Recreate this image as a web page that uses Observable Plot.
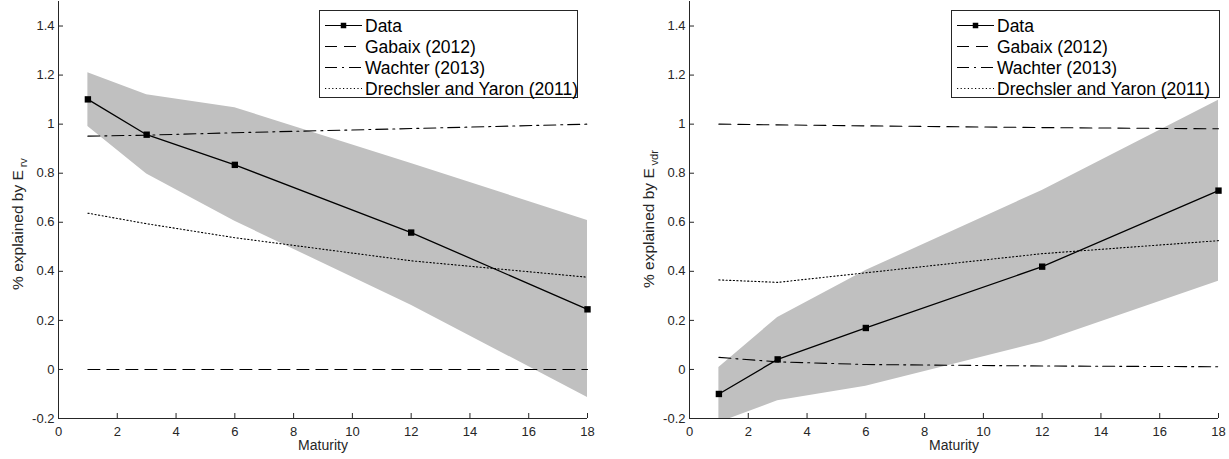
<!DOCTYPE html>
<html>
<head>
<meta charset="utf-8">
<script src="https://cdn.jsdelivr.net/npm/d3@7"></script>
<script src="https://cdn.jsdelivr.net/npm/@observablehq/plot@0.6"></script>
<style>
  body { margin: 0; background: #fff; }
  #wrap { position: relative; width: 1229px; height: 459px; overflow: hidden; font-family: "Liberation Sans", Arial, sans-serif; }
  .panel { position: absolute; top: 0; }
  .ylab { position: absolute; white-space: nowrap; font-size: 15.5px; line-height: 1; color: #262626;
          transform: translate(-50%, -50%) rotate(-90deg); transform-origin: 50% 50%; }
  .ylab .sub { position: relative; top: 0.4em; font-size: 0.72em; margin-left: 0.25em; }
  .legend { position: absolute; top: 0; left: 0; }
</style>
</head>
<body>
<div id="wrap"></div>
<script>
// ---- data ----
const maturity = [1, 3, 6, 12, 18];

// Left panel: % explained by E_rv
const leftData      = [1.101, 0.957, 0.834, 0.558, 0.245];
const leftUpper     = [1.21, 1.12, 1.067, 0.84, 0.607];
const leftLower     = [0.99, 0.797, 0.604, 0.262, -0.114];
const leftGabaix    = [0, 0, 0, 0, 0];
const leftWachter   = [0.951, 0.955, 0.965, 0.982, 1.0];
const leftDrechsler = [0.637, 0.594, 0.537, 0.443, 0.376];

// Right panel: % explained by E_vdr
const rightData      = [-0.1, 0.041, 0.169, 0.419, 0.729];
const rightUpper     = [0.008, 0.212, 0.403, 0.73, 1.097];
const rightLower     = [-0.217, -0.128, -0.069, 0.112, 0.36];
const rightGabaix    = [1.0, 0.997, 0.993, 0.986, 0.981];
const rightWachter   = [0.049, 0.031, 0.02, 0.014, 0.011];
const rightDrechsler = [0.365, 0.355, 0.394, 0.472, 0.525];

const xTicks = [0, 2, 4, 6, 8, 10, 12, 14, 16, 18];
const yTicks = [-0.2, 0, 0.2, 0.4, 0.6, 0.8, 1, 1.2, 1.4];
const seriesNames = ["Data", "Gabaix (2012)", "Wachter (2013)", "Drechsler and Yaron (2011)"];
const xLabel = "Maturity";
const yLabelMain = "% explained by E";
const leftSub = "rv";
const rightSub = "vdr";

// ---- drawing ----
const axisColor = "#262626";
const FONT = '"Liberation Sans", Arial, sans-serif';
const H = 459, MT = 1, MB = 41;
const dashStyles = [null, "12,7", "12,5,2,5", "1.2,2.4"];

function makePanel(opts) {
  const {data, upper, lower, gabaix, wachter, drechsler, width, marginLeft, marginRight} = opts;
  const rows = maturity.map((m, i) => ({m, d: data[i], u: upper[i], l: lower[i], g: gabaix[i], w: wachter[i], dr: drechsler[i]}));
  const ph = H - MT - MB;
  const pw = width - marginLeft - marginRight;
  return Plot.plot({
    width, height: H, marginTop: MT, marginBottom: MB, marginLeft, marginRight,
    x: {domain: [0, 18]},
    y: {domain: [-0.2, 1.5]},
    style: {fontFamily: FONT, background: "transparent", overflow: "visible"},
    marks: [
      Plot.areaY(rows, {x: "m", y1: "l", y2: "u", fill: "#c0c0c0", clip: true}),
      Plot.lineY(rows, {x: "m", y: "g", stroke: "black", strokeWidth: 1.1, strokeDasharray: dashStyles[1]}),
      Plot.lineY(rows, {x: "m", y: "w", stroke: "black", strokeWidth: 1.1, strokeDasharray: dashStyles[2]}),
      Plot.lineY(rows, {x: "m", y: "dr", stroke: "black", strokeWidth: 1.1, strokeDasharray: dashStyles[3]}),
      Plot.lineY(rows, {x: "m", y: "d", stroke: "black", strokeWidth: 1.3}),
      Plot.dot(rows, {x: "m", y: "d", symbol: "square", r: 3.6, fill: "black", stroke: null}),
      Plot.ruleY([-0.2], {stroke: axisColor}),
      Plot.ruleX([0], {stroke: axisColor}),
      Plot.ruleX(xTicks, {x: d => d, insetTop: ph - 5, stroke: axisColor}),
      Plot.ruleY(yTicks, {y: d => d, insetRight: pw - 5, stroke: axisColor}),
      Plot.axisX({ticks: xTicks, tickSize: 0, tickPadding: 8.5, tickFormat: d => String(d), fontSize: 13, color: axisColor, label: null}),
      Plot.axisY({ticks: yTicks, tickSize: 0, tickPadding: 4, tickFormat: d => String(+d.toFixed(1)), fontSize: 13, color: axisColor, label: null}),
      Plot.text([xLabel], {text: d => d, frameAnchor: "bottom", dy: 31.5, fontSize: 14, fill: axisColor})
    ]
  });
}

function makeLegend(svg, left, width) {
  const top = 10, height = 87, rowY = [25.5, 46.5, 67.5, 88.5];
  const g = svg.append("g");
  g.append("rect").attr("x", left + 0.5).attr("y", top + 0.5).attr("width", width).attr("height", height)
    .attr("fill", "white").attr("stroke", axisColor).attr("stroke-width", 1);
  seriesNames.forEach((name, i) => {
    const ln = g.append("line").attr("x1", left + 6).attr("x2", left + 43)
      .attr("y1", rowY[i]).attr("y2", rowY[i]).attr("stroke", "black").attr("stroke-width", 1.1);
    if (dashStyles[i]) ln.attr("stroke-dasharray", dashStyles[i]);
    if (i === 0) g.append("rect").attr("x", left + 24.5 - 2.75).attr("y", rowY[i] - 2.75).attr("width", 5.5).attr("height", 5.5).attr("fill", "black");
    g.append("text").attr("x", left + 46).attr("y", rowY[i] + 6).attr("font-size", 17.5)
      .attr("font-family", FONT).attr("fill", "black").text(name);
  });
}

const wrap = document.getElementById("wrap");

const p1 = makePanel({data: leftData, upper: leftUpper, lower: leftLower, gabaix: leftGabaix, wachter: leftWachter, drechsler: leftDrechsler,
  width: 614, marginLeft: 58, marginRight: 27});
p1.classList.add("panel"); p1.style.left = "0px";
wrap.appendChild(p1);

const p2 = makePanel({data: rightData, upper: rightUpper, lower: rightLower, gabaix: rightGabaix, wachter: rightWachter, drechsler: rightDrechsler,
  width: 615, marginLeft: 75, marginRight: 11});
p2.classList.add("panel"); p2.style.left = "614px";
wrap.appendChild(p2);

// legends
const lsvg = d3.select(wrap).append("svg").attr("class", "legend").attr("width", 1229).attr("height", 459);
makeLegend(lsvg, 319, 258);
makeLegend(lsvg, 951, 268);

// y labels
function yLabel(cx, cy, sub) {
  const div = document.createElement("div");
  div.className = "ylab";
  div.style.left = cx + "px";
  div.style.top = cy + "px";
  div.append(yLabelMain);
  const s = document.createElement("span");
  s.className = "sub";
  s.textContent = sub;
  div.appendChild(s);
  wrap.appendChild(div);
}
yLabel(17.5, 223.5, leftSub);
yLabel(649, 219, rightSub);
</script>
</body>
</html>
